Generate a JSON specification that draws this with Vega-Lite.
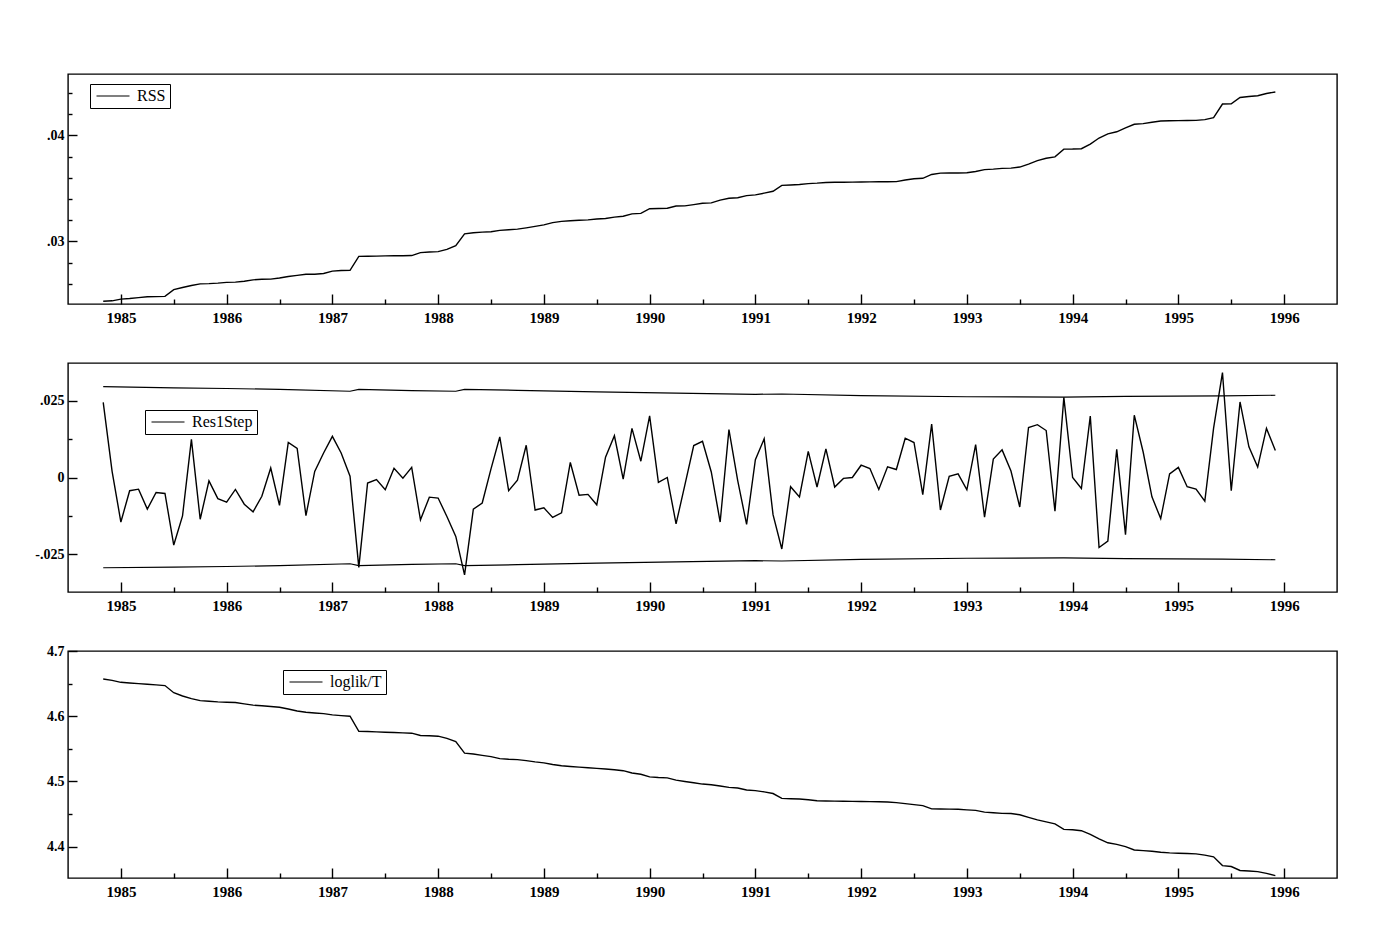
{
  "$schema": "https://vega.github.io/schema/vega-lite/v6.json",
  "background": "white",
  "padding": {"left": 34, "top": 73, "right": 10, "bottom": 10},
  "autosize": {"type": "pad"},
  "bounds": "flush",
  "spacing": 59,
  "resolve": {"scale": {"color": "independent"}, "legend": {"color": "independent"}},
  "config": {
    "view": {"stroke": "black", "strokeWidth": 1.4},
    "axis": {"domain": false, "grid": false, "title": null, "labelFont": "Liberation Serif", "labelFontWeight": "bold", "labelColor": "black", "tickColor": "black", "tickWidth": 1.4, "labelFlush": false, "labelOverlap": false, "labelBound": false},
    "axisX": {"labelFontSize": 15},
    "axisY": {"labelFontSize": 14},
    "legend": {"orient": "none", "title": null, "symbolType": "M-1,0H5", "symbolSize": 121, "symbolStrokeWidth": 1.2, "symbolFillColor": "transparent", "symbolStrokeColor": "black", "strokeColor": "black", "fillColor": "white", "padding": 4, "labelFont": "Liberation Serif", "labelFontSize": 16, "labelColor": "black", "labelOffset": 27, "labelLimit": 400}
  },
  "datasets": {
    "m": [
      {"t":1984.833,"rss":0.02436,"res":0.0245,"ll":4.657},
      {"t":1984.917,"rss":0.02440,"res":0.002,"ll":4.655},
      {"t":1985.0,"rss":0.02456,"res":-0.0145,"ll":4.652},
      {"t":1985.083,"rss":0.02462,"res":-0.0043,"ll":4.651},
      {"t":1985.167,"rss":0.02470,"res":-0.0038,"ll":4.650},
      {"t":1985.25,"rss":0.02478,"res":-0.0103,"ll":4.649},
      {"t":1985.333,"rss":0.02480,"res":-0.0049,"ll":4.648},
      {"t":1985.417,"rss":0.02482,"res":-0.0052,"ll":4.647},
      {"t":1985.5,"rss":0.02546,"res":-0.022,"ll":4.636},
      {"t":1985.583,"rss":0.02566,"res":-0.0125,"ll":4.631},
      {"t":1985.667,"rss":0.02585,"res":0.0124,"ll":4.627},
      {"t":1985.75,"rss":0.02600,"res":-0.0136,"ll":4.624},
      {"t":1985.833,"rss":0.02602,"res":-0.0011,"ll":4.623},
      {"t":1985.917,"rss":0.02607,"res":-0.0069,"ll":4.622},
      {"t":1986.0,"rss":0.02614,"res":-0.008,"ll":4.6215},
      {"t":1986.083,"rss":0.02616,"res":-0.0039,"ll":4.621},
      {"t":1986.167,"rss":0.02625,"res":-0.0087,"ll":4.619},
      {"t":1986.25,"rss":0.02638,"res":-0.0112,"ll":4.617},
      {"t":1986.333,"rss":0.02643,"res":-0.0061,"ll":4.616},
      {"t":1986.417,"rss":0.02645,"res":0.0031,"ll":4.615},
      {"t":1986.5,"rss":0.02655,"res":-0.0091,"ll":4.6137},
      {"t":1986.583,"rss":0.02670,"res":0.0114,"ll":4.611},
      {"t":1986.667,"rss":0.02680,"res":0.0095,"ll":4.608},
      {"t":1986.75,"rss":0.02690,"res":-0.0124,"ll":4.606},
      {"t":1986.833,"rss":0.02691,"res":0.002,"ll":4.605},
      {"t":1986.917,"rss":0.02698,"res":0.008,"ll":4.604},
      {"t":1987.0,"rss":0.02720,"res":0.0134,"ll":4.602},
      {"t":1987.083,"rss":0.02726,"res":0.008,"ll":4.601},
      {"t":1987.167,"rss":0.02728,"res":0.0004,"ll":4.600},
      {"t":1987.25,"rss":0.02859,"res":-0.0293,"ll":4.577},
      {"t":1987.333,"rss":0.02861,"res":-0.0018,"ll":4.5765},
      {"t":1987.417,"rss":0.02862,"res":-0.0007,"ll":4.576},
      {"t":1987.5,"rss":0.02864,"res":-0.004,"ll":4.5755},
      {"t":1987.583,"rss":0.02865,"res":0.003,"ll":4.575},
      {"t":1987.667,"rss":0.02865,"res":-0.0002,"ll":4.5745},
      {"t":1987.75,"rss":0.02867,"res":0.0033,"ll":4.574},
      {"t":1987.833,"rss":0.02895,"res":-0.0138,"ll":4.5705},
      {"t":1987.917,"rss":0.02900,"res":-0.0064,"ll":4.570},
      {"t":1988.0,"rss":0.02904,"res":-0.0067,"ll":4.5694},
      {"t":1988.083,"rss":0.02925,"res":-0.0127,"ll":4.566},
      {"t":1988.167,"rss":0.02960,"res":-0.0192,"ll":4.561},
      {"t":1988.25,"rss":0.03072,"res":-0.0317,"ll":4.5435},
      {"t":1988.333,"rss":0.03082,"res":-0.0103,"ll":4.542},
      {"t":1988.417,"rss":0.03088,"res":-0.0083,"ll":4.540},
      {"t":1988.5,"rss":0.03092,"res":0.0028,"ll":4.538},
      {"t":1988.583,"rss":0.03105,"res":0.0132,"ll":4.535},
      {"t":1988.667,"rss":0.03110,"res":-0.0043,"ll":4.534},
      {"t":1988.75,"rss":0.03116,"res":-0.0009,"ll":4.5335},
      {"t":1988.833,"rss":0.03128,"res":0.0105,"ll":4.532},
      {"t":1988.917,"rss":0.03142,"res":-0.0106,"ll":4.530},
      {"t":1989.0,"rss":0.03156,"res":-0.0099,"ll":4.5285},
      {"t":1989.083,"rss":0.03178,"res":-0.013,"ll":4.526},
      {"t":1989.167,"rss":0.03190,"res":-0.0115,"ll":4.524},
      {"t":1989.25,"rss":0.03195,"res":0.0049,"ll":4.523},
      {"t":1989.333,"rss":0.03200,"res":-0.0058,"ll":4.522},
      {"t":1989.417,"rss":0.03204,"res":-0.0055,"ll":4.521},
      {"t":1989.5,"rss":0.03212,"res":-0.0089,"ll":4.520},
      {"t":1989.583,"rss":0.03217,"res":0.0066,"ll":4.519},
      {"t":1989.667,"rss":0.03230,"res":0.0136,"ll":4.518},
      {"t":1989.75,"rss":0.03238,"res":-0.0005,"ll":4.5165},
      {"t":1989.833,"rss":0.03260,"res":0.016,"ll":4.513},
      {"t":1989.917,"rss":0.03265,"res":0.0053,"ll":4.511},
      {"t":1990.0,"rss":0.03309,"res":0.0201,"ll":4.507},
      {"t":1990.083,"rss":0.03311,"res":-0.0016,"ll":4.506},
      {"t":1990.167,"rss":0.03314,"res":0.0,"ll":4.5055},
      {"t":1990.25,"rss":0.03335,"res":-0.0151,"ll":4.502},
      {"t":1990.333,"rss":0.03336,"res":-0.0025,"ll":4.500},
      {"t":1990.417,"rss":0.03348,"res":0.0104,"ll":4.498},
      {"t":1990.5,"rss":0.03360,"res":0.0118,"ll":4.496},
      {"t":1990.583,"rss":0.03364,"res":0.0018,"ll":4.495},
      {"t":1990.667,"rss":0.03390,"res":-0.0145,"ll":4.493},
      {"t":1990.75,"rss":0.03408,"res":0.0156,"ll":4.491},
      {"t":1990.833,"rss":0.03412,"res":-0.001,"ll":4.490},
      {"t":1990.917,"rss":0.03432,"res":-0.0153,"ll":4.487},
      {"t":1991.0,"rss":0.03440,"res":0.0058,"ll":4.486},
      {"t":1991.083,"rss":0.03456,"res":0.0126,"ll":4.484},
      {"t":1991.167,"rss":0.03474,"res":-0.0121,"ll":4.4815},
      {"t":1991.25,"rss":0.03529,"res":-0.0233,"ll":4.474},
      {"t":1991.333,"rss":0.03533,"res":-0.003,"ll":4.4735},
      {"t":1991.417,"rss":0.03538,"res":-0.0063,"ll":4.473},
      {"t":1991.5,"rss":0.03546,"res":0.0085,"ll":4.472},
      {"t":1991.583,"rss":0.03550,"res":-0.0031,"ll":4.4705},
      {"t":1991.667,"rss":0.03557,"res":0.0093,"ll":4.470},
      {"t":1991.75,"rss":0.03558,"res":-0.0031,"ll":4.4698},
      {"t":1991.833,"rss":0.03559,"res":-0.0003,"ll":4.4696},
      {"t":1991.917,"rss":0.03560,"res":0.0,"ll":4.4694},
      {"t":1992.0,"rss":0.03561,"res":0.004,"ll":4.4692},
      {"t":1992.083,"rss":0.03562,"res":0.0029,"ll":4.4691},
      {"t":1992.167,"rss":0.03563,"res":-0.0039,"ll":4.469},
      {"t":1992.25,"rss":0.03564,"res":0.0035,"ll":4.4685},
      {"t":1992.333,"rss":0.03565,"res":0.0026,"ll":4.4675},
      {"t":1992.417,"rss":0.03580,"res":0.0128,"ll":4.466},
      {"t":1992.5,"rss":0.03592,"res":0.0114,"ll":4.4645},
      {"t":1992.583,"rss":0.03596,"res":-0.0056,"ll":4.463},
      {"t":1992.667,"rss":0.03632,"res":0.0174,"ll":4.458},
      {"t":1992.75,"rss":0.03645,"res":-0.0106,"ll":4.4577},
      {"t":1992.833,"rss":0.03646,"res":0.0004,"ll":4.4576},
      {"t":1992.917,"rss":0.03646,"res":0.0012,"ll":4.4575},
      {"t":1993.0,"rss":0.03648,"res":-0.004,"ll":4.4565},
      {"t":1993.083,"rss":0.03660,"res":0.0107,"ll":4.4556},
      {"t":1993.167,"rss":0.03678,"res":-0.0129,"ll":4.453},
      {"t":1993.25,"rss":0.03683,"res":0.006,"ll":4.452},
      {"t":1993.333,"rss":0.03690,"res":0.009,"ll":4.451},
      {"t":1993.417,"rss":0.03692,"res":0.0021,"ll":4.4508},
      {"t":1993.5,"rss":0.03702,"res":-0.0096,"ll":4.449},
      {"t":1993.583,"rss":0.03730,"res":0.0163,"ll":4.445},
      {"t":1993.667,"rss":0.03762,"res":0.0172,"ll":4.441},
      {"t":1993.75,"rss":0.03785,"res":0.0153,"ll":4.438},
      {"t":1993.833,"rss":0.03798,"res":-0.011,"ll":4.435},
      {"t":1993.917,"rss":0.03871,"res":0.0261,"ll":4.4265},
      {"t":1994.0,"rss":0.03872,"res":0.0,"ll":4.426},
      {"t":1994.083,"rss":0.03875,"res":-0.0036,"ll":4.4245},
      {"t":1994.167,"rss":0.03918,"res":0.02,"ll":4.419},
      {"t":1994.25,"rss":0.03976,"res":-0.0228,"ll":4.412},
      {"t":1994.333,"rss":0.04015,"res":-0.0207,"ll":4.406},
      {"t":1994.417,"rss":0.04035,"res":0.0092,"ll":4.4035},
      {"t":1994.5,"rss":0.04072,"res":-0.0186,"ll":4.400},
      {"t":1994.583,"rss":0.04106,"res":0.0203,"ll":4.395},
      {"t":1994.667,"rss":0.04112,"res":0.0083,"ll":4.394},
      {"t":1994.75,"rss":0.04125,"res":-0.0063,"ll":4.393},
      {"t":1994.833,"rss":0.04136,"res":-0.0134,"ll":4.3915},
      {"t":1994.917,"rss":0.04139,"res":0.0012,"ll":4.3905},
      {"t":1995.0,"rss":0.04140,"res":0.0033,"ll":4.390},
      {"t":1995.083,"rss":0.04141,"res":-0.003,"ll":4.3895},
      {"t":1995.167,"rss":0.04142,"res":-0.0038,"ll":4.389},
      {"t":1995.25,"rss":0.04150,"res":-0.0077,"ll":4.387},
      {"t":1995.333,"rss":0.04168,"res":0.0161,"ll":4.3845},
      {"t":1995.417,"rss":0.04297,"res":0.0342,"ll":4.371},
      {"t":1995.5,"rss":0.04298,"res":-0.0043,"ll":4.3696},
      {"t":1995.583,"rss":0.04358,"res":0.0246,"ll":4.3635},
      {"t":1995.667,"rss":0.04368,"res":0.01,"ll":4.3628},
      {"t":1995.75,"rss":0.04375,"res":0.0034,"ll":4.3618},
      {"t":1995.833,"rss":0.04396,"res":0.016,"ll":4.359},
      {"t":1995.917,"rss":0.04410,"res":0.0088,"ll":4.3557}
    ],
    "bands": [
      {"t":1984.833,"up":0.0296,"lo":-0.0294},
      {"t":1985.5,"up":0.0292,"lo":-0.0292},
      {"t":1986.0,"up":0.0290,"lo":-0.0290},
      {"t":1986.5,"up":0.0287,"lo":-0.0287},
      {"t":1987.167,"up":0.0281,"lo":-0.0281},
      {"t":1987.25,"up":0.0287,"lo":-0.0287},
      {"t":1987.75,"up":0.0283,"lo":-0.0283},
      {"t":1988.167,"up":0.0281,"lo":-0.0281},
      {"t":1988.25,"up":0.0287,"lo":-0.0287},
      {"t":1988.75,"up":0.0284,"lo":-0.0284},
      {"t":1989.5,"up":0.0279,"lo":-0.0279},
      {"t":1990.25,"up":0.0275,"lo":-0.0275},
      {"t":1991.0,"up":0.0271,"lo":-0.0271},
      {"t":1991.25,"up":0.0272,"lo":-0.0272},
      {"t":1992.0,"up":0.0267,"lo":-0.0267},
      {"t":1993.0,"up":0.0263,"lo":-0.0263},
      {"t":1993.917,"up":0.0262,"lo":-0.0262},
      {"t":1994.5,"up":0.0264,"lo":-0.0264},
      {"t":1995.417,"up":0.0266,"lo":-0.0266},
      {"t":1995.917,"up":0.0268,"lo":-0.0268}
    ]
  },
  "vconcat": [
    {
      "width": 1269,
      "height": 230,
      "data": {"name": "m"},
      "mark": {"type": "line", "strokeWidth": 1.4},
      "encoding": {
        "x": {"field": "t", "type": "quantitative", "scale": {"domain": [1984.5, 1996.5], "nice": false, "zero": false},
          "axis": {"values": [1985,1985.5,1986,1986.5,1987,1987.5,1988,1988.5,1989,1989.5,1990,1990.5,1991,1991.5,1992,1992.5,1993,1993.5,1994,1994.5,1995,1995.5,1996],
            "tickSize": {"condition": {"test": "datum.value % 1 == 0", "value": -10}, "value": -5},
            "labelExpr": "datum.value % 1 == 0 ? format(datum.value, 'd') : ''", "labelPadding": 16}},
        "y": {"field": "rss", "type": "quantitative", "scale": {"domain": [0.0241, 0.0458], "nice": false, "zero": false},
          "axis": {"values": [0.026,0.028,0.03,0.032,0.034,0.036,0.038,0.04,0.042,0.044],
            "tickSize": {"condition": {"test": "round(datum.value*1000) % 10 == 0", "value": -9}, "value": -4},
            "labelExpr": "round(datum.value*1000) % 10 == 0 ? replace(format(datum.value, '.2f'), '0.', '.') : ''", "labelPadding": 13}},
        "color": {"datum": "RSS", "scale": {"range": ["black"]},
          "legend": {"legendX": 22, "legendY": 10, "labelExpr": "datum.label + '\u00a0'"}}
      }
    },
    {
      "width": 1269,
      "height": 229,
      "layer": [
        {
          "mark": {"type": "rule", "color": "black", "strokeWidth": 1.2},
          "encoding": {"y": {"datum": 0, "type": "quantitative"}}
        },
        {
          "data": {"name": "bands"},
          "mark": {"type": "line", "color": "black", "strokeWidth": 1.2},
          "encoding": {
            "x": {"field": "t", "type": "quantitative"},
            "y": {"field": "up", "type": "quantitative"}
          }
        },
        {
          "data": {"name": "bands"},
          "mark": {"type": "line", "color": "black", "strokeWidth": 1.2},
          "encoding": {
            "x": {"field": "t", "type": "quantitative"},
            "y": {"field": "lo", "type": "quantitative"}
          }
        },
        {
          "data": {"name": "m"},
          "mark": {"type": "line", "strokeWidth": 1.4},
          "encoding": {
            "x": {"field": "t", "type": "quantitative", "scale": {"domain": [1984.5, 1996.5], "nice": false, "zero": false},
              "axis": {"values": [1985,1985.5,1986,1986.5,1987,1987.5,1988,1988.5,1989,1989.5,1990,1990.5,1991,1991.5,1992,1992.5,1993,1993.5,1994,1994.5,1995,1995.5,1996],
                "tickSize": {"condition": {"test": "datum.value % 1 == 0", "value": -10}, "value": -5},
                "labelExpr": "datum.value % 1 == 0 ? format(datum.value, 'd') : ''", "labelPadding": 16}},
            "y": {"field": "res", "type": "quantitative", "scale": {"domain": [-0.0373, 0.0373], "nice": false, "zero": false},
              "axis": {"values": [-0.025,-0.0125,0,0.0125,0.025],
                "tickSize": {"condition": {"test": "round(datum.value*1000) % 25 == 0", "value": -9}, "value": -4},
                "labelExpr": "round(datum.value*1000) % 25 == 0 ? (datum.value == 0 ? '0' : replace(replace(format(datum.value, '.3f'), '0.', '.'), '\u2212', '-')) : ''", "labelPadding": 13}},
            "color": {"datum": "Res1Step", "scale": {"range": ["black"]},
              "legend": {"legendX": 77, "legendY": 47, "labelExpr": "datum.label + '\u00a0\u00a0\u00a0\u00a0\u00a0\u00a0\u00a0\u00a0'"}}
          }
        }
      ]
    },
    {
      "width": 1269,
      "height": 227,
      "data": {"name": "m"},
      "mark": {"type": "line", "strokeWidth": 1.4},
      "encoding": {
        "x": {"field": "t", "type": "quantitative", "scale": {"domain": [1984.5, 1996.5], "nice": false, "zero": false},
          "axis": {"values": [1985,1985.5,1986,1986.5,1987,1987.5,1988,1988.5,1989,1989.5,1990,1990.5,1991,1991.5,1992,1992.5,1993,1993.5,1994,1994.5,1995,1995.5,1996],
            "tickSize": {"condition": {"test": "datum.value % 1 == 0", "value": -10}, "value": -5},
            "labelExpr": "datum.value % 1 == 0 ? format(datum.value, 'd') : ''", "labelPadding": 16}},
        "y": {"field": "ll", "type": "quantitative", "scale": {"domain": [4.352, 4.7], "nice": false, "zero": false},
          "axis": {"values": [4.4,4.45,4.5,4.55,4.6,4.65,4.7],
            "tickSize": {"condition": {"test": "round(datum.value*100) % 10 == 0", "value": -9}, "value": -4},
            "labelExpr": "round(datum.value*100) % 10 == 0 ? format(datum.value, '.1f') : ''", "labelPadding": 13}},
        "color": {"datum": "loglik/T", "scale": {"range": ["black"]},
          "legend": {"legendX": 215, "legendY": 19, "labelExpr": "datum.label + '\u00a0\u00a0\u00a0\u00a0\u00a0\u00a0\u00a0\u00a0\u00a0\u00a0\u00a0'"}}
      }
    }
  ]
}
